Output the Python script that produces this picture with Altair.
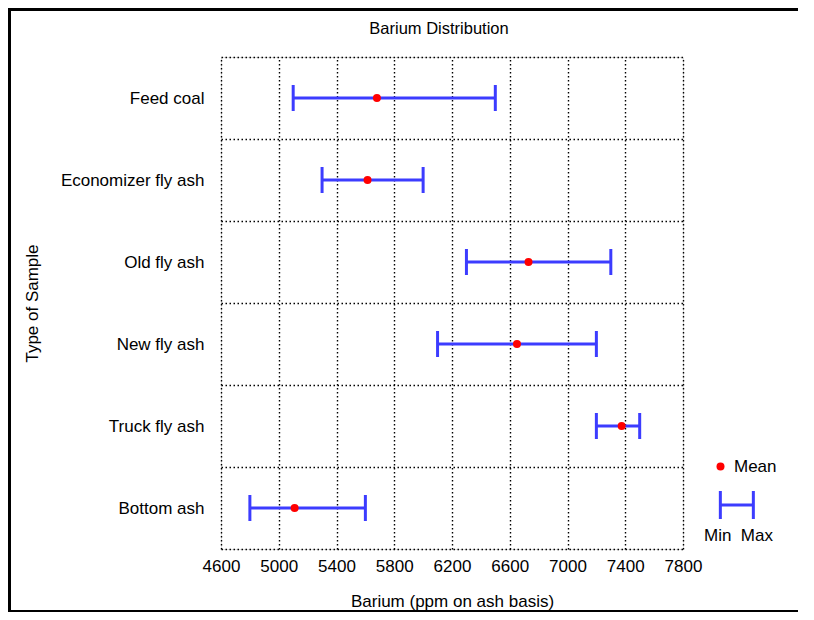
import altair as alt
import pandas as pd

# ---- data ----
samples = ["Feed coal", "Economizer fly ash", "Old fly ash", "New fly ash",
           "Truck fly ash", "Bottom ash"]
min_vals = [5100, 5300, 6300, 6100, 7200, 4800]
mean_vals = [5680, 5615, 6730, 6650, 7375, 5110]
max_vals = [6500, 6000, 7300, 7200, 7500, 5600]
x_ticks = [4600, 5000, 5400, 5800, 6200, 6600, 7000, 7400, 7800]

df = pd.DataFrame({
    "sample": samples,
    "min": min_vals,
    "mean": mean_vals,
    "max": max_vals,
})
df["mean_key"] = "Mean"
df["range_key"] = "range"

FONT = "Liberation Sans"
BLUE = "#3c3cff"
RED = "#ff0000"
FS = 17
DASH = [1.5, 2.5]

xscale = alt.Scale(domain=[x_ticks[0], x_ticks[-1]], nice=False, zero=False)
yscale = alt.Scale(domain=samples, paddingInner=0, paddingOuter=0)

xaxis = alt.Axis(
    values=x_ticks, title="Barium (ppm on ash basis)", format="d",
    grid=True, gridDash=DASH, gridColor="black", gridOpacity=1, gridWidth=1.4,
    ticks=False, domain=False, labelFlush=False, labelOverlap=False,
    labelFont=FONT, labelFontSize=FS, labelColor="black", labelPadding=9,
    titleFont=FONT, titleFontSize=FS, titleFontWeight="normal",
    titleColor="black", titlePadding=19,
)
yaxis = alt.Axis(
    title="Type of Sample", tickBand="extent",
    grid=True, gridDash=DASH, gridColor="black", gridOpacity=1, gridWidth=1.4,
    ticks=False, domain=False,
    labelFont=FONT, labelFontSize=FS, labelColor="black", labelPadding=17,
    titleFont=FONT, titleFontSize=FS, titleFontWeight="normal",
    titleColor="black", titlePadding=19,
)

base = alt.Chart(df)

rules = base.mark_rule(strokeWidth=3, opacity=1).encode(
    x=alt.X("min:Q", scale=xscale, axis=xaxis),
    x2="max:Q",
    y=alt.Y("sample:N", scale=yscale, axis=yaxis, sort=samples),
    stroke=alt.Stroke(
        "range_key:N",
        scale=alt.Scale(domain=["range"], range=[BLUE]),
        legend=alt.Legend(
            orient="none", legendX=483, legendY=430, padding=0,
            title="Min\u00a0\u00a0Max", titleOrient="bottom", titleAnchor="start",
            titleFont=FONT, titleFontSize=FS, titleFontWeight="normal",
            titleColor="black", titlePadding=3,
            labelExpr="''",
            symbolType="M-0.1,-0.85V0.85M1.9,-0.85V0.85M-0.1,0H1.9",
            symbolSize=1089, symbolStrokeWidth=3, symbolFillColor="transparent",
            symbolOpacity=1,
        ),
    ),
)

caps_min = base.mark_tick(thickness=3, size=26, color=BLUE, opacity=1).encode(
    x="min:Q", y=alt.Y("sample:N", sort=samples)
)
caps_max = base.mark_tick(thickness=3, size=26, color=BLUE, opacity=1).encode(
    x="max:Q", y=alt.Y("sample:N", sort=samples)
)

points = base.mark_circle(size=64, opacity=1).encode(
    x="mean:Q",
    y=alt.Y("sample:N", sort=samples),
    fill=alt.Fill(
        "mean_key:N",
        scale=alt.Scale(domain=["Mean"], range=[RED]),
        legend=alt.Legend(
            orient="none", legendX=491, legendY=401, padding=0, title=None,
            symbolType="circle", symbolSize=64, symbolStrokeWidth=0,
            symbolOpacity=1,
            labelFont=FONT, labelFontSize=FS, labelColor="black", labelOffset=5,
        ),
    ),
)

# decorative outer frame of the figure
frame = alt.Chart(pd.DataFrame({"k": [0]}))
frame_left = frame.mark_rule(color="black", strokeWidth=3).encode(
    x=alt.value(-211.5), y=alt.value(-49), y2=alt.value(555)
)
frame_top = frame.mark_rule(color="black", strokeWidth=3).encode(
    x=alt.value(-213), x2=alt.value(577), y=alt.value(-47.5)
)
frame_bottom = frame.mark_rule(color="black", strokeWidth=2).encode(
    x=alt.value(-213), x2=alt.value(577), y=alt.value(554)
)

chart = alt.layer(
    rules, caps_min, caps_max, points, frame_left, frame_top, frame_bottom
).properties(
    width=462,
    height=492,
    title=alt.TitleParams(
        "Barium Distribution", font=FONT, fontSize=16.5, fontWeight="normal",
        color="black", offset=-31, dx=-13, anchor="middle",
    ),
    autosize=alt.AutoSizeParams(type="none"),
    padding={"left": 213, "top": 49, "right": 123, "bottom": 63},
).configure_view(
    stroke="black", strokeWidth=1
).configure(
    background="white"
)

chart.save("out.html", embed_options={"renderer": "svg", "actions": False})
